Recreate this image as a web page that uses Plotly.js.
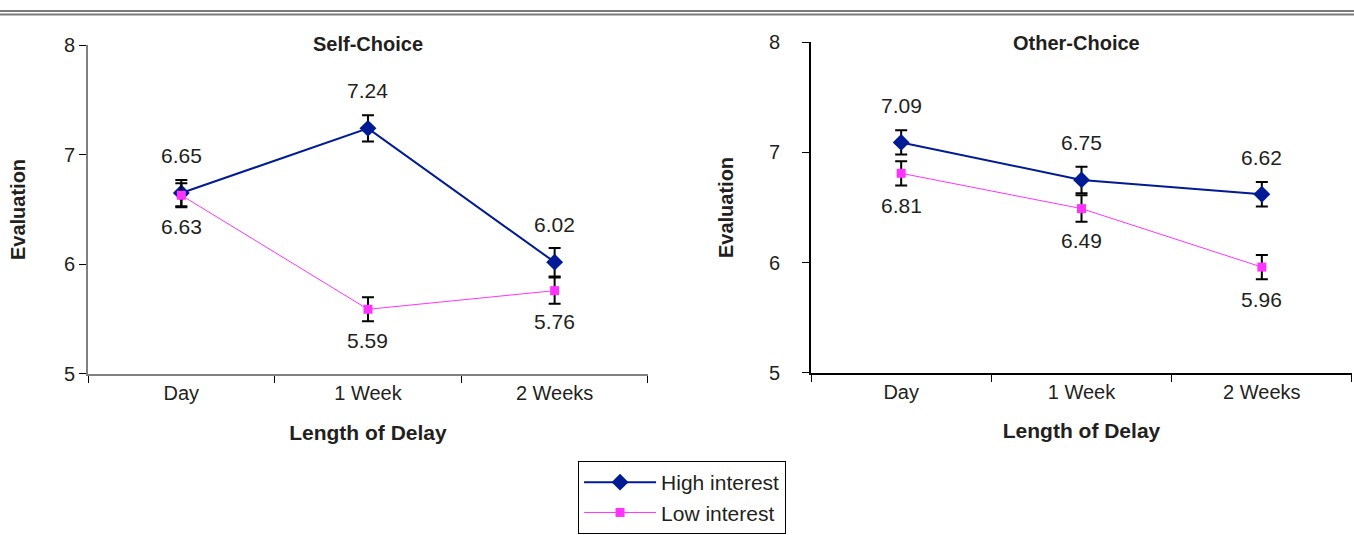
<!DOCTYPE html>
<html>
<head>
<meta charset="utf-8">
<script src="https://cdn.plot.ly/plotly-3.0.1.min.js"></script>
<style>
  html, body { margin: 0; padding: 0; background: #fff; }
  #chart { width: 1354px; height: 535px; }
</style>
</head>
<body>
<div id="chart"></div>
<script>
// ---- data ----
const categories = ['Day', '1 Week', '2 Weeks'];
const seriesNames = ['High interest', 'Low interest'];
const panelTitles = ['Self-Choice', 'Other-Choice'];

const selfHigh = [6.65, 7.24, 6.02];
const selfHighErr = [0.12, 0.12, 0.13];
const selfLow = [6.63, 5.59, 5.76];
const selfLowErr = [0.11, 0.11, 0.12];

const otherHigh = [7.09, 6.75, 6.62];
const otherHighErr = [0.11, 0.12, 0.11];
const otherLow = [6.81, 6.49, 5.96];
const otherLowErr = [0.11, 0.12, 0.11];

const yTicks = [5, 6, 7, 8];

// ---- style ----
const FONT = 'Liberation Sans, Arial, sans-serif';
const TXT = '#231f20';
const HIGH_COLOR = '#001b94';
const LOW_COLOR = '#ff33ff';

function highTrace(y, err, xa, ya, show) {
  return {
    x: categories, y: y, xaxis: xa, yaxis: ya,
    type: 'scatter', mode: 'lines+markers', name: seriesNames[0],
    showlegend: show, legendgroup: 'high',
    line: { color: HIGH_COLOR, width: 2 },
    marker: { symbol: 'diamond', size: 13, color: HIGH_COLOR },
    error_y: { type: 'data', array: err, visible: true, color: '#000', thickness: 2, width: 6 },
    hoverinfo: 'skip'
  };
}
function lowTrace(y, err, xa, ya, show) {
  return {
    x: categories, y: y, xaxis: xa, yaxis: ya,
    type: 'scatter', mode: 'lines+markers', name: seriesNames[1],
    showlegend: show, legendgroup: 'low',
    line: { color: LOW_COLOR, width: 1 },
    marker: { symbol: 'square', size: 9, color: LOW_COLOR },
    error_y: { type: 'data', array: err, visible: true, color: '#000', thickness: 2, width: 6 },
    hoverinfo: 'skip'
  };
}

const data = [
  highTrace(selfHigh, selfHighErr, 'x', 'y', true),
  lowTrace(selfLow, selfLowErr, 'x', 'y', true),
  highTrace(otherHigh, otherHighErr, 'x2', 'y2', false),
  lowTrace(otherLow, otherLowErr, 'x2', 'y2', false)
];

// value labels
const annotations = [];
function addLabels(vals, xa, ya, shift) {
  vals.forEach((v, i) => {
    annotations.push({
      x: categories[i], y: v, xref: xa, yref: ya,
      text: v.toFixed(2), showarrow: false, yshift: shift,
      font: { family: FONT, size: 21, color: TXT }
    });
  });
}
addLabels(selfHigh, 'x', 'y', 38);
addLabels(selfLow, 'x', 'y', -31);
addLabels(otherHigh, 'x2', 'y2', 37);
addLabels(otherLow, 'x2', 'y2', -32);

// panel titles
annotations.push({ xref: 'x domain', yref: 'paper', x: 0.5, y: 0.988, yanchor: 'middle',
  text: '<b>' + panelTitles[0] + '</b>', showarrow: false, font: { family: FONT, size: 20, color: TXT } });
annotations.push({ xref: 'x2 domain', yref: 'paper', x: 0.49, y: 0.991, yanchor: 'middle',
  text: '<b>' + panelTitles[1] + '</b>', showarrow: false, font: { family: FONT, size: 20, color: TXT } });

const leftDomX = [0, 0.443];
const rightDomX = [0.572, 1];
const leftDomY = [0.003, 0.985];
const rightDomY = [0.006, 0.994];

function mainX(domain, anchor, lineColor, titleStandoff) {
  return {
    domain: domain, anchor: anchor, type: 'category', categoryarray: categories,
    range: [-0.5, 2.5], tickson: 'boundaries', ticks: 'outside', ticklen: 7,
    tickcolor: '#000', tickwidth: 1, showline: true, linecolor: lineColor, linewidth: 2,
    showgrid: false, zeroline: false, fixedrange: true,
    tickfont: { family: FONT, size: 20, color: TXT },
    title: { text: '<b>Length of Delay</b>', standoff: titleStandoff, font: { family: FONT, size: 21, color: TXT } }
  };
}
function overX(domain, anchor, over) {
  return {
    domain: domain, anchor: anchor, overlaying: over, type: 'linear',
    range: [-0.5, 2.5], tickmode: 'array', tickvals: [-0.5, 0.5, 1.5, 2.5],
    ticks: 'inside', ticklen: 7, tickcolor: '#000', tickwidth: 1,
    showticklabels: false, showline: false, showgrid: false, zeroline: false, fixedrange: true
  };
}
function mainY(domain, anchor, lineColor, standoffLbl, standoffTitle) {
  return {
    domain: domain, anchor: anchor, range: [5, 8], tickmode: 'array', tickvals: yTicks,
    ticks: 'outside', ticklen: 7, tickcolor: '#000', tickwidth: 1,
    showline: true, linecolor: lineColor, linewidth: 2, showgrid: false, zeroline: false,
    ticklabelstandoff: standoffLbl, fixedrange: true,
    tickfont: { family: FONT, size: 20, color: TXT },
    title: { text: '<b>Evaluation</b>', standoff: standoffTitle, font: { family: FONT, size: 20, color: TXT } }
  };
}
function overY(domain, anchor, over) {
  return {
    domain: domain, anchor: anchor, overlaying: over, range: [5, 8],
    tickmode: 'array', tickvals: yTicks, ticks: 'inside', ticklen: 7,
    tickcolor: '#000', tickwidth: 1, showticklabels: false, showline: false,
    showgrid: false, zeroline: false, fixedrange: true
  };
}

const layout = {
  width: 1354, height: 535,
  margin: { l: 88, r: 2, t: 40, b: 159 },
  paper_bgcolor: '#fff', plot_bgcolor: 'rgba(0,0,0,0)',
  font: { family: FONT, color: TXT },
  showlegend: true,
  legend: {
    x: 0.3877, y: -0.253, xanchor: 'left', yanchor: 'top',
    bgcolor: '#fff', bordercolor: '#000', borderwidth: 1,
    font: { family: FONT, size: 21, color: TXT },
    traceorder: 'normal', itemwidth: 72
  },
  xaxis: mainX(leftDomX, 'y', '#808080', 22),
  yaxis: mainY(leftDomY, 'x', '#808080', 0, 33),
  xaxis2: mainX(rightDomX, 'y2', '#000', 21),
  yaxis2: mainY(rightDomY, 'x2', '#000', 18, 30),
  xaxis3: overX(leftDomX, 'y', 'x'),
  yaxis3: overY(leftDomY, 'x', 'y'),
  xaxis4: overX(rightDomX, 'y2', 'x2'),
  yaxis4: overY(rightDomY, 'x2', 'y2'),
  annotations: annotations,
  shapes: [
    { type: 'line', xref: 'paper', yref: 'paper', x0: -0.0697, x1: 1.0016, y0: 1.0863, y1: 1.0863,
      line: { color: '#7a7a7a', width: 2 } },
    { type: 'line', xref: 'paper', yref: 'paper', x0: -0.0697, x1: 1.0016, y0: 1.0759, y1: 1.0759,
      line: { color: '#7a7a7a', width: 2 } }
  ]
};

Plotly.newPlot('chart', data, layout, { displayModeBar: false, staticPlot: true });
</script>
</body>
</html>
